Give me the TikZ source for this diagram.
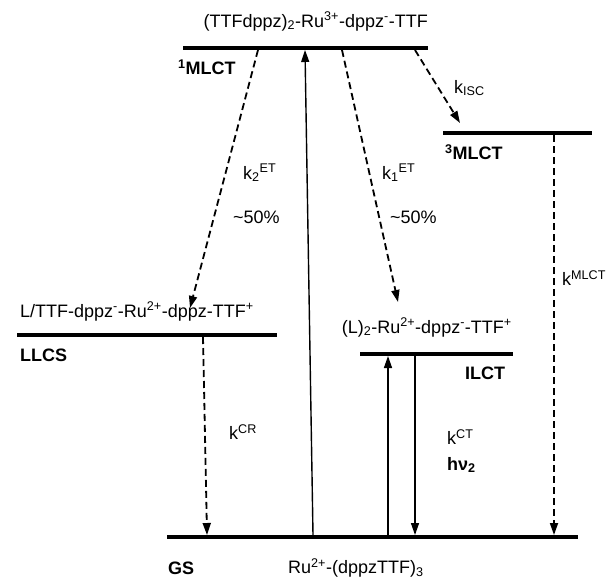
\documentclass[tikz,border=0pt]{standalone}
\usepackage{fontspec}
\setmainfont{Liberation Sans}
\usetikzlibrary{arrows.meta}
\begin{document}
\begin{tikzpicture}[x=1pt,y=-1pt,
  level/.style={line width=3.5pt},
  lbl/.style={font=\fontsize{18}{20}\selectfont, inner sep=0pt},
  blbl/.style={inner sep=0pt, font=\fontsize{18}{20}\selectfont\bfseries},
  solidarr/.style={line width=1.4pt,-{Triangle[length=12pt,width=8pt]}},
  dasharr/.style={line width=1.8pt,dash pattern=on 7pt off 4pt,-{Triangle[length=12pt,width=8pt]}}
]
\useasboundingbox (0,0) rectangle (610,579);
% levels
\coordinate (t1) at (183,48);  \coordinate (t2) at (428,48);
\coordinate (m1) at (443,133); \coordinate (m2) at (592,133);
\coordinate (l1) at (17,335);  \coordinate (l2) at (277,335);
\coordinate (i1) at (360,354); \coordinate (i2) at (513,354);
\coordinate (g1) at (167,537); \coordinate (g2) at (578,537);
\draw[level] (t1) -- (t2);
\draw[level] (m1) -- (m2);
\draw[level] (l1) -- (l2);
\draw[level] (i1) -- (i2);
\draw[level] (g1) -- (g2);
% texts
\node[lbl, anchor=base east] (ttop) at (428,27) {(TTFdppz)\textsubscript{2}-Ru\textsuperscript{3+}-dppz\textsuperscript{-}-TTF};
\node[blbl, anchor=west] (n1mlct) at (178,67) {\textsuperscript{1}MLCT};
\node[blbl, anchor=west] (n3mlct) at (445,152) {\textsuperscript{3}MLCT};
\node[lbl, anchor=base west] (tllcs) at (20,317) {L/TTF-dppz\textsuperscript{-}-Ru\textsuperscript{2+}-dppz-TTF\textsuperscript{+}};
\node[blbl, anchor=west] (nllcs) at (20,355) {LLCS};
\node[lbl, anchor=base east] (tilct) at (512,333) {(L)\textsubscript{2}-Ru\textsuperscript{2+}-dppz\textsuperscript{-}-TTF\textsuperscript{+}};
\node[blbl, anchor=west] (nilct) at (465,373) {ILCT};
\node[blbl, anchor=west] (ngs) at (168,568) {GS};
\node[lbl, anchor=west] (tgs) at (288,568) {Ru\textsuperscript{2+}-(dppzTTF)\textsubscript{3}};
% rate labels
\node[lbl, anchor=west] (k2) at (243,173) {k\textsubscript{2}\textsuperscript{ET}};
\node[lbl, anchor=west] (p2) at (233,217) {\textasciitilde50\%};
\node[lbl, anchor=west] (k1) at (382,173) {k\textsubscript{1}\textsuperscript{ET}};
\node[lbl, anchor=west] (p1) at (390,217) {\textasciitilde50\%};
\node[lbl, anchor=west] (kisc) at (454,88) {k\textsubscript{ISC}};
\node[lbl, anchor=west] (kmlct) at (562,278) {k\textsuperscript{MLCT}};
\node[lbl, anchor=west] (kcr) at (229,432) {k\textsuperscript{CR}};
\node[lbl, anchor=west] (kct) at (447,437) {k\textsuperscript{CT}};
\node[blbl, anchor=west] (hv) at (447,465) {h\textnormal{\bfseries ν}\textsubscript{2}};
% connector end points
\coordinate (ua) at (313,535); \coordinate (ub) at (305,50);
\coordinate (d2a) at (258,50); \coordinate (d2b) at (190,308);
\coordinate (d1a) at (342,50); \coordinate (d1b) at (398,302);
\coordinate (dia) at (415,50); \coordinate (dib) at (460,123);
\coordinate (dma) at (554,135); \coordinate (dmb) at (554,535);
\coordinate (dca) at (203,337); \coordinate (dcb) at (207,535);
\coordinate (ia) at (388,535); \coordinate (ib) at (388,356);
\coordinate (ja) at (415,356); \coordinate (jb) at (415,535);
% connectors
\draw[solidarr] (ua) -- (ub);
\draw[dasharr] (d2a) -- (d2b);
\draw[dasharr] (d1a) -- (d1b);
\draw[dasharr] (dia) -- (dib);
\draw[dasharr] (dma) -- (dmb);
\draw[dasharr] (dca) -- (dcb);
\draw[solidarr] (ia) -- (ib);
\draw[solidarr] (ja) -- (jb);
\end{tikzpicture}
\end{document}
